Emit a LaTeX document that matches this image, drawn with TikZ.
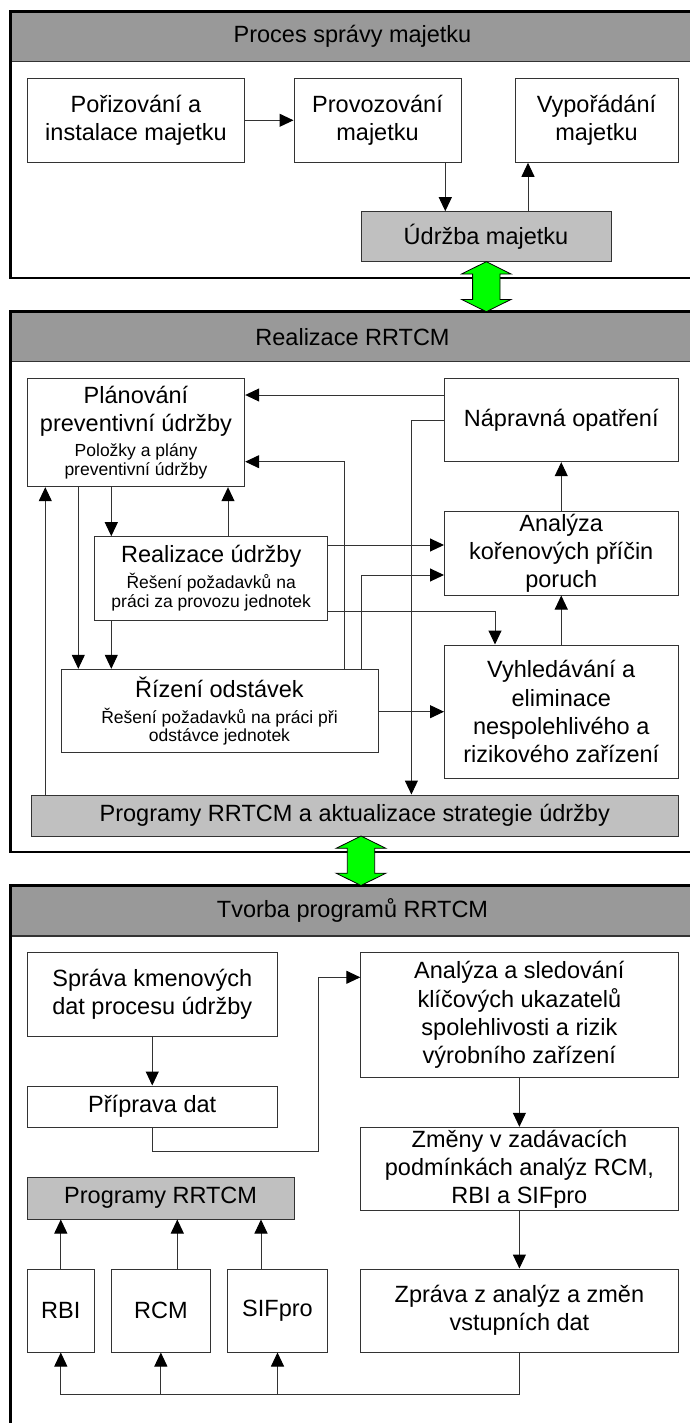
\documentclass[tikz,border=0pt]{standalone}
\usepackage{fontspec}
\setmainfont{Liberation Sans}
\usetikzlibrary{arrows.meta}

\definecolor{hdrgray}{HTML}{999999}
\definecolor{boxgray}{HTML}{C0C0C0}
\definecolor{linegray}{HTML}{333333}
\definecolor{flowgreen}{HTML}{00FF00}

\newcommand{\bigtxt}{\fontsize{23.5}{28.2}\selectfont}
\newcommand{\smalltxt}{\fontsize{17.5}{19.5}\selectfont}

% double-headed green exchange arrow: centre x, top y, bottom y
\newcommand{\exchange}[3]{%
  \filldraw[fill=flowgreen, draw=black, line width=0.8pt]
    (#1,#2) -- ({#1+24.8},{#2+12.3}) -- ({#1+13.7},{#2+12.3})
    -- ({#1+13.7},{#3-12.3}) -- ({#1+24.8},{#3-12.3}) -- (#1,#3)
    -- ({#1-24.8},{#3-12.3}) -- ({#1-13.7},{#3-12.3})
    -- ({#1-13.7},{#2+12.3}) -- ({#1-24.8},{#2+12.3}) -- cycle;}

\tikzset{
  box/.style={draw=linegray, line width=1pt, fill=white, align=center,
    font=\bigtxt, inner sep=0pt},
  graybox/.style={box, fill=boxgray},
  link/.style={draw=linegray, line width=1pt},
  arr/.style={link, -{Triangle[length=14pt,width=13pt,color=black]}},
  panel/.style={draw=black, line width=2.5pt, inner sep=0pt},
  title/.style={font=\bigtxt, inner sep=0pt},
}

\begin{document}
\begin{tikzpicture}[x=1pt, y=-1pt]
\clip (0,0) rectangle (690,1423);
\fill[white] (0,0) rectangle (690,1423);

% ---------- panel 1: asset management process ----------
\fill[hdrgray] (10.5,11.7) rectangle (695,61.7);
\draw[draw=linegray, line width=1.5pt] (10.5,61.7) -- (695,61.7);
\node[panel, minimum width=684.5pt, minimum height=266.3pt] (pan1) at (352.75,144.85) {};
\node[title] (t1) at (352.5,36.7) {Proces správy majetku};

\node[box, minimum width=217.4pt, minimum height=84pt] (A1) at (136,120.3) {Pořizování a\\instalace majetku};
\node[box, minimum width=167pt, minimum height=84pt] (A2) at (377.5,120.3) {Provozování\\majetku};
\node[box, minimum width=163pt, minimum height=84pt] (A3) at (596.5,120.3) {Vypořádání\\majetku};
\node[graybox, minimum width=250pt, minimum height=50pt] (A4) at (486,236.7) {Údržba majetku};

\draw[arr] (A1) -- (A2);
\draw[arr] (A2.south -| 445.3,0) -- (A4.north -| 445.3,0);
\draw[arr] (A4.north -| 528,0) -- (A3.south -| 528,0);

% ---------- panel 2: RRTCM realisation ----------
\fill[hdrgray] (10.5,311.7) rectangle (695,361.7);
\draw[draw=linegray, line width=1.5pt] (10.5,361.7) -- (695,361.7);
\node[panel, minimum width=684.5pt, minimum height=540.3pt] (pan2) at (352.75,581.85) {};
\node[title] (t2) at (352.5,336.7) {Realizace RRTCM};

\node[box, minimum width=217.4pt, minimum height=108.4pt] (P) at (136,432.5)
  {Plánování\\preventivní údržby\\[-2.5pt]\smalltxt Položky a plány\\[-9.6pt]\smalltxt preventivní údržby};
\node[box, minimum width=233.5pt, minimum height=83.4pt] (N) at (561.25,420) {Nápravná opatření};
\node[box, minimum width=233.2pt, minimum height=83.3pt] (R) at (211.2,578.35)
  {Realizace údržby\\[-2.2pt]\smalltxt Řešení požadavků na\\[-9.6pt]\smalltxt práci za provozu jednotek};
\node[box, minimum width=233.5pt, minimum height=83.3pt] (K) at (561.25,553.35) {Analýza\\kořenových příčin\\poruch};
\node[box, minimum width=317pt, minimum height=83.2pt] (O) at (219.5,710.9)
  {Řízení odstávek\\[-2.2pt]\smalltxt Řešení požadavků na práci při\\[-9.6pt]\smalltxt odstávce jednotek};
\node[box, minimum width=233.5pt, minimum height=133.3pt] (V) at (561.25,711.65)
  {Vyhledávání a\\eliminace\\nespolehlivého a\\rizikového zařízení};
\node[graybox, minimum width=646.5pt, minimum height=41pt] (B) at (354.75,815.5)
  {Programy RRTCM a aktualizace strategie údržby};

\draw[arr] (N.west |- 0,395) -- (P.east |- 0,395);
\draw[arr] (N.west |- 0,420) -| (B.north -| 411.4,0);
\draw[arr] (O.north -| 344,0) |- (P.east |- 0,461.7);
\draw[arr] (P.south -| 78.3,0) -- (O.north -| 78.3,0);
\draw[arr] (P.south -| 111.3,0) -- (R.north -| 111.3,0);
\draw[arr] (R.north -| 228,0) -- (P.south -| 228,0);
\draw[arr] (B.north -| 45.3,0) -- (P.south -| 45.3,0);
\draw[arr] (R.east |- 0,545) -- (K.west |- 0,545);
\draw[arr] (O.north -| 361.7,0) |- (K.west |- 0,575);
\draw[arr] (R.east |- 0,611.7) -| (V.north -| 495,0);
\draw[arr] (R.south -| 111.3,0) -- (O.north -| 111.3,0);
\draw[arr] (O.east |- 0,711.7) -- (V.west |- 0,711.7);
\draw[arr] (V.north) -- (K.south);
\draw[arr] (K.north) -- (N.south);

% ---------- panel 3: building RRTCM programmes ----------
\fill[hdrgray] (10.5,885.5) rectangle (695,936);
\draw[draw=linegray, line width=1.5pt] (10.5,936) -- (695,936);
\node[panel, minimum width=684.5pt, minimum height=600pt] (pan3) at (352.75,1185.5) {};
\node[title] (t3) at (352.5,910.5) {Tvorba programů RRTCM};

\node[box, minimum width=249.9pt, minimum height=83.3pt] (S) at (152.25,994.35) {Správa kmenových\\dat procesu údržby};
\node[box, minimum width=249.9pt, minimum height=41.3pt] (D) at (152.25,1106.65) {Příprava dat};
\node[box, minimum width=317.2pt, minimum height=124.6pt] (AS) at (519.4,1015)
  {Analýza a sledování\\klíčových ukazatelů\\spolehlivosti a rizik\\výrobního zařízení};
\node[box, minimum width=317.2pt, minimum height=83.4pt] (Z) at (519.4,1169)
  {Změny v zadávacích\\podmínkách analýz RCM,\\RBI a SIFpro};
\node[box, minimum width=317.2pt, minimum height=83.3pt] (Zp) at (519.4,1310.65)
  {Zpráva z analýz a změn\\vstupních dat};
\node[graybox, minimum width=266.7pt, minimum height=41.7pt] (PR) at (160.65,1198.15) {Programy RRTCM};
\node[box, minimum width=67pt, minimum height=83pt] (RBI) at (60.8,1310.5) {RBI};
\node[box, minimum width=99.7pt, minimum height=83pt] (RCM) at (160.85,1310.5) {RCM};
\node[box, minimum width=99.6pt, minimum height=83pt] (SIF) at (277.5,1310.5) {SIFpro};

\coordinate (dturn) at (318,1151.7);
\coordinate (bus) at (60.8,1394);

\draw[arr] (S.south) -- (D.north);
\draw[arr] (D.south) |- (dturn) |- (AS.west |- 0,977.3);
\draw[arr] (AS.south) -- (Z.north);
\draw[arr] (Z.south) -- (Zp.north);
\draw[arr] (RBI.north) -- (PR.south -| RBI.north);
\draw[arr] (RCM.north -| 177.3,0) -- (PR.south -| 177.3,0);
\draw[arr] (SIF.north -| 261,0) -- (PR.south -| 261,0);
\draw[arr] (Zp.south) |- (bus) -- (RBI.south);
\draw[arr] (RCM.south |- bus) -- (RCM.south);
\draw[arr] (SIF.south |- bus) -- (SIF.south);

% ---------- exchanges between the panels ----------
\exchange{486.3}{261.7}{311.7}
\exchange{361}{836}{885.5}
\end{tikzpicture}
\end{document}
